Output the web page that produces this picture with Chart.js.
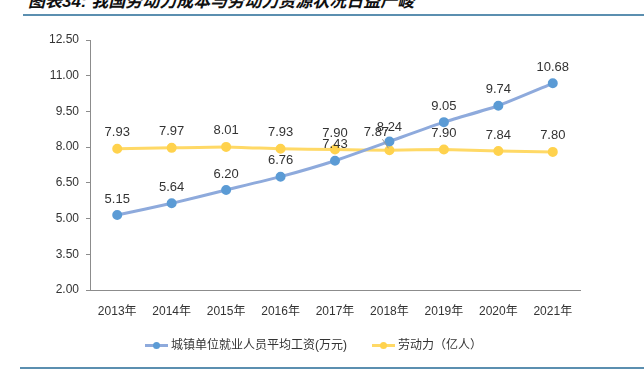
<!DOCTYPE html>
<html><head><meta charset="utf-8">
<script src="https://cdn.jsdelivr.net/npm/chart.js@4/dist/chart.umd.min.js"></script>
<style>
html,body{margin:0;padding:0;background:#fff;width:644px;height:372px;overflow:hidden;position:relative;font-family:"Liberation Sans","Noto Sans CJK SC",sans-serif;}
#title{position:absolute;left:28px;top:-8px;font:italic bold 17px/19px "Liberation Sans","Noto Sans CJK SC";color:#111;white-space:nowrap;}
.rule{position:absolute;height:2px;background:#5b8fb0;}
#wrap{position:absolute;left:0;top:0;width:644px;height:372px;}
#legend{position:absolute;top:337px;left:145px;font:12px/16px "Liberation Sans","Noto Sans CJK SC";color:#333;display:flex;align-items:center;white-space:nowrap;}
.lg{display:flex;align-items:center;margin-right:25px;}
.sw{position:relative;width:23px;height:3px;margin-right:3px;}
.sw i{position:absolute;left:8px;top:-2px;width:7px;height:7px;border-radius:50%;}
</style></head>
<body>
<div id="title">图表34: 我国劳动力成本与劳动力资源状况日益严峻</div>
<div class="rule" style="left:23px;right:0;top:14px;"></div>
<div id="wrap"><canvas id="c" width="644" height="372"></canvas></div>
<div id="legend">
  <div class="lg"><div class="sw" style="background:#8eaadc"><i style="background:#5b9bd5"></i></div><span>城镇单位就业人员平均工资(万元)</span></div>
  <div class="lg"><div class="sw" style="background:#ffd966"><i style="background:#ffd24d"></i></div><span>劳动力（亿人）</span></div>
</div>
<div class="rule" style="left:20px;right:0;top:367px;"></div>
<script>
const categories = ["2013年","2014年","2015年","2016年","2017年","2018年","2019年","2020年","2021年"];
const wageValues = [5.15,5.64,6.20,6.76,7.43,8.24,9.05,9.74,10.68];
const laborValues = [7.93,7.97,8.01,7.93,7.90,7.87,7.90,7.84,7.80];
const seriesNames = ["城镇单位就业人员平均工资(万元)","劳动力（亿人）"];

const labelPlugin = {
  id:'labels',
  afterDatasetsDraw(chart){
    const ctx = chart.ctx;
    ctx.save();
    ctx.font = '13px "Liberation Sans", Arial, sans-serif';
    ctx.fillStyle = '#333';
    ctx.textAlign = 'center';
    ctx.textBaseline = 'middle';
    chart.data.datasets.forEach((ds, di) => {
      const meta = chart.getDatasetMeta(di);
      meta.data.forEach((pt, i) => {
        let x = pt.x, y = pt.y - 16;
        if (di === 1 && i === 5) {
          x = pt.x - 13; y = pt.y - 18;
          ctx.strokeStyle = '#999'; ctx.lineWidth = 1;
          ctx.beginPath(); ctx.moveTo(x + 6, y + 7); ctx.lineTo(pt.x - 1, pt.y - 2); ctx.stroke();
        }
        if (di === 0 && i === 5) { y = pt.y - 14; }
        ctx.fillText(ds.data[i].toFixed(2), x, y);
      });
    });
    ctx.restore();
  }
};

new Chart(document.getElementById('c'), {
  type:'line',
  data:{
    labels: categories,
    datasets:[
      {label:seriesNames[0], data:wageValues, borderColor:'#8eaadc', backgroundColor:'#5b9bd5', pointBackgroundColor:'#5b9bd5', pointBorderColor:'#5b9bd5', pointRadius:3.5, borderWidth:3, tension:0.15},
      {label:seriesNames[1], data:laborValues, borderColor:'#ffd966', backgroundColor:'#ffd24d', pointBackgroundColor:'#ffd24d', pointBorderColor:'#ffd24d', pointRadius:3.5, borderWidth:3, tension:0.15}
    ]
  },
  options:{
    responsive:false, animation:false,
    layout:{padding:{top:40,right:64,left:0,bottom:0}},
    plugins:{legend:{display:false}, tooltip:{enabled:false}},
    scales:{
      x:{
        offset:true,
        grid:{display:false},
        border:{display:true,color:'#8c8c8c',width:1},
        ticks:{font:{size:12,family:'"Liberation Sans","Noto Sans CJK SC"'},color:'#333',padding:6,maxRotation:0},
        afterFit(s){ s.height = 82; }
      },
      y:{
        min:2, max:12.5,
        ticks:{stepSize:1.5, callback:v=>v.toFixed(2), font:{size:12,family:'"Liberation Sans"'},color:'#333',padding:7},
        grid:{drawOnChartArea:false, tickLength:4, color:'#8c8c8c'},
        border:{display:true,color:'#8c8c8c',width:1},
        afterFit(s){ s.width = 90; }
      }
    }
  },
  plugins:[labelPlugin]
});
</script>
</body></html>
